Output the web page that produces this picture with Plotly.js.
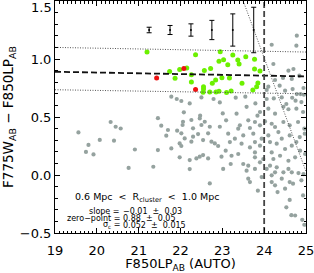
<!DOCTYPE html>
<html>
<head>
<meta charset="utf-8">
<script src="https://cdn.plot.ly/plotly-3.0.1.min.js"></script>
<style>html,body{margin:0;padding:0;background:#fff;}#chart{width:314px;height:273px;}</style>
</head>
<body>
<div id="chart"></div>
<script>
// ---- data ----
const grayX = [
 19.56,20.33,20.45,20.57,19.80,19.74,19.92,20.07,20.41,20.91,20.76,
 21.46,21.78,21.91,22.02,22.22,22.50,22.79,22.94,22.08,22.47,23.01,21.54,21.66,21.70,21.92,22.05,22.06,22.26,22.46,22.58,22.30,22.50,22.70,22.94,22.02,22.42,22.66,22.10,22.30,22.54,22.74,22.82,22.90,21.98,22.02,22.26,21.78,21.46,22.46,22.54,22.38,22.66,22.22,21.98,21.35,22.22,22.70,22.98,
 24.78,24.18,24.77,24.22,24.58,24.70,24.45,24.66,24.84,24.26,24.10,24.06,24.37,24.50,24.68,24.94,24.78,24.87,24.95,
 23.32,23.79,24.23,24.67,23.58,23.34,23.90,24.10,24.26,24.46,24.58,24.77,24.93,24.89,23.09,23.62,23.78,23.42,23.38,23.66,23.90,24.02,24.18,24.26,24.46,24.61,24.81,24.96,23.14,23.30,23.50,23.74,23.94,24.10,24.34,24.42,24.61,24.85,24.97,23.18,23.46,23.78,24.14,24.30,24.77,23.55,24.06,24.42,24.53,24.75,23.84,
 23.08,23.22,23.38,23.66,23.78,23.90,24.18,24.50,24.66,24.86,24.98,23.78,23.98,24.22,24.38,24.58,24.74,23.20,23.50,23.62,23.90,24.14,24.30,24.58,23.02,23.58,23.78,24.06,24.26,24.46,24.66,24.82,24.94,23.62,23.94,24.18,24.42,24.61,24.89,23.66,24.18,24.26,24.69,23.85,24.50,24.93,24.32,24.61,24.53,24.65,24.74,24.91,24.96
];
const grayY = [
 0.367,0.457,0.416,0.401,0.259,0.199,0.177,0.302,0.296,0.220,0.061,
 0.490,0.675,0.655,0.638,0.617,0.669,0.655,0.626,0.540,0.511,0.531,0.425,0.339,0.388,0.382,0.431,0.459,0.474,0.488,0.459,0.402,0.431,0.416,0.416,0.359,0.353,0.359,0.315,0.330,0.301,0.287,0.272,0.250,0.272,0.250,0.287,0.229,0.215,0.158,0.172,0.143,0.143,0.129,0.152,0.071,0.051,-0.073,0.158,
 1.201,1.123,1.115,0.957,0.899,0.914,0.836,0.828,0.856,0.819,0.761,0.733,0.770,0.727,0.741,0.750,0.698,0.698,0.692,
 0.667,0.617,0.660,0.666,0.588,0.529,0.543,0.572,0.529,0.588,0.567,0.572,0.543,0.629,0.471,0.471,0.457,0.428,0.399,0.405,0.428,0.462,0.442,0.414,0.457,0.428,0.457,0.399,0.356,0.313,0.341,0.356,0.313,0.341,0.370,0.313,0.341,0.327,0.356,0.284,0.270,0.284,0.284,0.270,0.284,0.675,0.655,0.669,0.612,0.641,0.511,
 0.210,0.166,0.181,0.238,0.195,0.253,0.195,0.224,0.253,0.210,0.181,0.152,0.138,0.138,0.166,0.123,0.152,0.095,0.095,0.080,0.109,0.080,0.066,0.052,0.052,0.037,0.052,0.052,0.023,0.023,0.023,0.017,0.008,-0.032,-0.018,-0.003,-0.032,-0.061,-0.046,-0.061,-0.061,-0.089,-0.075,-0.135,-0.118,-0.176,-0.147,-0.215,-0.279,-0.346,-0.349,-0.386,-0.429
];
const greenX = [21.20,22.36,22.95,22.92,23.03,23.25,23.56,23.13,23.37,23.40,23.77,21.74,21.98,22.15,22.57,22.72,23.77,23.90,21.87,22.26,22.26,22.76,22.84,22.99,23.17,23.47,23.85,23.82,23.73,22.55,22.55,22.54,22.70,22.85,22.92,23.10,23.21];
const greenY = [1.060,1.037,1.063,0.981,0.994,1.035,1.020,0.951,0.991,0.957,0.997,0.892,0.909,0.923,0.901,0.919,0.914,0.897,0.833,0.865,0.802,0.790,0.819,0.839,0.836,0.790,0.793,0.761,0.733,0.761,0.741,0.714,0.716,0.716,0.722,0.712,0.724];
const redX = [21.43,22.08,22.36];
const redY = [0.836,0.919,0.738];
const errX = [21.25,21.75,22.25,22.75,23.25,23.75];
const errY = [1.25,1.25,1.25,1.25,1.25,1.25];
const errSize = [0.024,0.039,0.053,0.083,0.139,0.196];
const fitX = [19,25];
const fitY = [0.89,0.85];
const upperY = [1.10,1.06];
const lowerY = [0.735,0.70];
const limitX = [24,24];
const limitY = [-0.5,1.5];
const diagX = [23.5,25];
const diagY = [1.5,0.03];
const xTicks = [19,20,21,22,23,24,25];
const yTicks = [-0.5,0.0,0.5,1.0,1.5];
const yTopLabel = '1.5';
const regionLabel = '0.6 Mpc \u00a0<\u00a0 R<sub>cluster</sub> \u00a0<\u00a0 1.0 Mpc';
const statNames = ['slope =','zero\u2212point =','\u03c3<sub>c</sub> ='];
const statValues = ['\u22120.01 \u00a0\u00b1\u00a0 0.03','0.88 \u00a0\u00b1\u00a0 0.05','0.052 \u00a0\u00b1\u00a0 0.015'];
const statYs = [-0.313,-0.372,-0.432];

const FONT = 'DejaVu Sans, sans-serif';
const traces = [
  {x: grayX, y: grayY, mode:'markers', type:'scatter', marker:{color:'#95a29f', size:4.2}, hoverinfo:'skip'},
  {x: greenX, y: greenY, mode:'markers', type:'scatter', marker:{color:'#6cf000', size:5}, hoverinfo:'skip'},
  {x: redX, y: redY, mode:'markers', type:'scatter', marker:{color:'#ee1111', size:5}, hoverinfo:'skip'},
  {x: fitX, y: fitY, mode:'lines', type:'scatter', line:{color:'#111', width:1.8, dash:'6px,3px'}, hoverinfo:'skip'},
  {x: fitX, y: upperY, mode:'lines', type:'scatter', line:{color:'#555', width:1, dash:'1px,1.5px'}, hoverinfo:'skip'},
  {x: fitX, y: lowerY, mode:'lines', type:'scatter', line:{color:'#555', width:1, dash:'1px,1.5px'}, hoverinfo:'skip'},
  {x: limitX, y: limitY, mode:'lines', type:'scatter', line:{color:'#444', width:1.8, dash:'6px,3px'}, hoverinfo:'skip'},
  {x: diagX, y: diagY, mode:'lines', type:'scatter', line:{color:'#555', width:1, dash:'1px,1.5px'}, hoverinfo:'skip'},
  {x: errX, y: errY, mode:'markers', type:'scatter', marker:{color:'#000', size:2},
   error_y:{type:'data', array: errSize, visible:true, color:'#000', thickness:1, width:2.5}, hoverinfo:'skip'}
];

const annotations = [
  {x:21.19, y:-0.19, xref:'x', yref:'y', text: regionLabel, showarrow:false, xanchor:'center', yanchor:'middle', borderpad:0, font:{family:FONT, size:9.5, color:'#000'}},
  {x:0, y:1, xref:'paper', yref:'paper', xanchor:'right', yanchor:'top', xshift:-2, yshift:2, borderpad:0, text:yTopLabel, showarrow:false, font:{family:FONT, size:13, color:'#000'}}
];
statNames.forEach((n,i)=>{
  annotations.push({x:20.57, y:statYs[i], xref:'x', yref:'y', text:n, showarrow:false, xanchor:'right', yanchor:'middle', borderpad:0, font:{family:FONT, size:8, color:'#000'}});
  annotations.push({x:20.60, y:statYs[i], xref:'x', yref:'y', text:statValues[i], showarrow:false, xanchor:'left', yanchor:'middle', borderpad:0, font:{family:FONT, size:8, color:'#000'}});
});

const axisCommon = {
  showgrid:false, zeroline:false, showline:true, linecolor:'#000', linewidth:1,
  ticks:'inside', ticklen:5, tickwidth:1, tickcolor:'#000', mirror:'allticks',
  ticklabeloverflow:'allow',
  tickfont:{family:FONT, size:13, color:'#000'}
};
const layout = {
  width:314, height:273,
  margin:{l:55, r:8, t:1, b:40, pad:0},
  paper_bgcolor:'#fff', plot_bgcolor:'#fff',
  showlegend:false,
  xaxis: Object.assign({}, axisCommon, {
    range:[19,25], tickvals: xTicks, ticktext: xTicks.map(String),
    ticklabelstandoff:5,
    minor:{dtick:0.1, ticks:'inside', ticklen:2.5, tickwidth:1, tickcolor:'#000'},
    title:{text:'F850LP<sub>AB</sub> (AUTO)', font:{family:FONT, size:13, color:'#000'}, standoff:0}
  }),
  yaxis: Object.assign({}, axisCommon, {
    range:[-0.5,1.5], tickvals: yTicks.slice(0,4), ticktext: yTicks.slice(0,4).map(v=>v<0?'\u2212'+Math.abs(v).toFixed(1):v.toFixed(1)),
    minor:{dtick:0.1, ticks:'inside', ticklen:2.5, tickwidth:1, tickcolor:'#000'},
    title:{text:'F775W<sub>AB</sub> \u2212 F850LP<sub>AB</sub>', font:{family:FONT, size:13.5, color:'#000'}, standoff:3}
  }),
  annotations: annotations
};
Plotly.newPlot('chart', traces, layout, {staticPlot:true, displayModeBar:false});
</script>
</body>
</html>
